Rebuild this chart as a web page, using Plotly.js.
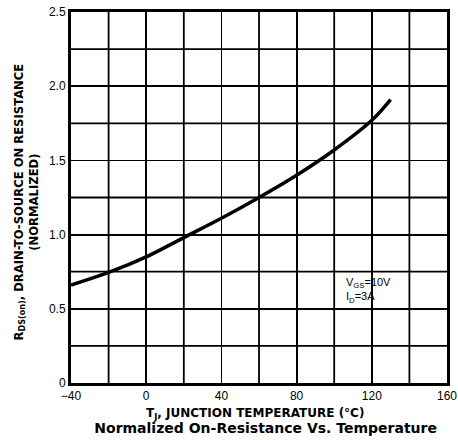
<!DOCTYPE html>
<html>
<head>
<meta charset="utf-8">
<script src="https://cdn.plot.ly/plotly-3.0.1.min.js"></script>
<style>html,body{margin:0;padding:0;background:#fff;}#chart{width:458px;height:440px;}</style>
</head>
<body>
<div id="chart"></div>
<script>
var temperature = [-40, -20, 0, 20, 40, 60, 80, 100, 120, 130];
var resistance = [0.66, 0.745, 0.85, 0.98, 1.11, 1.25, 1.40, 1.57, 1.77, 1.91];
var xTickVals = [-40, 0, 40, 80, 120, 160];
var xTickText = ['\u221240', '0', '40', '80', '120', '160'];
var yTickVals = [0, 0.5, 1.0, 1.5, 2.0, 2.5];
var yTickText = ['0', '0.5', '1.0', '1.5', '2.0', '2.5'];

var font = 'Liberation Sans, Arial, sans-serif';
var wideFont = 'DejaVu Sans, Liberation Sans, sans-serif';

var trace = {
  x: temperature, y: resistance, type: 'scatter', mode: 'lines',
  line: {color: '#000', width: 3.5, shape: 'spline', smoothing: 1},
  hoverinfo: 'skip', showlegend: false
};

var layout = {
  width: 458, height: 440,
  margin: {l: 71, r: 11, t: 12, b: 57},
  paper_bgcolor: '#fff', plot_bgcolor: '#fff',
  font: {family: font, color: '#000', size: 12},
  title: {
    text: '<b>Normalized On-Resistance Vs. Temperature</b>',
    font: {family: wideFont, size: 14, color: '#000'},
    x: 0.58, xanchor: 'center', y: 0.027, yanchor: 'middle', yref: 'container'
  },
  xaxis: {
    range: [-40, 160], dtick: 20, tick0: -40, showgrid: true,
    gridcolor: '#000', gridwidth: 1.8, zeroline: false,
    showline: true, linecolor: '#000', linewidth: 3, mirror: true,
    tickmode: 'array', tickvals: xTickVals, ticktext: xTickText,
    ticks: '', tickfont: {size: 12, family: font},
    fixedrange: true
  },
  yaxis: {
    range: [0, 2.5], showgrid: true,
    gridcolor: '#000', gridwidth: 1.8, zeroline: false,
    showline: true, linecolor: '#000', linewidth: 3, mirror: true,
    tickmode: 'array', tickvals: yTickVals, ticktext: yTickText,
    ticks: '', tickfont: {size: 12, family: font},
    fixedrange: true
  },
  shapes: [],
  annotations: [
    {
      text: '<b>T<sub>J</sub>, JUNCTION TEMPERATURE (\u00b0C)</b>',
      xref: 'paper', yref: 'paper', x: 0.49, y: 0, yshift: -21, yanchor: 'top',
      showarrow: false, font: {family: wideFont, size: 12, color: '#000'}
    },
    {
      text: '<b>R<sub>DS(on)</sub>, DRAIN-TO-SOURCE ON RESISTANCE</b><br><b>(NORMALIZED)</b>',
      xref: 'paper', yref: 'paper', x: 0, xshift: -45, xanchor: 'center', y: 0.5, yshift: -5, yanchor: 'middle',
      textangle: -90, showarrow: false, font: {family: wideFont, size: 11.6, color: '#000'}
    },
    {
      text: 'V<sub>GS</sub>=10V<br>I<sub>D</sub>=3A',
      xref: 'x', yref: 'y', x: 105, y: 0.625, xanchor: 'left', yanchor: 'middle', align: 'left',
      showarrow: false, font: {family: font, size: 11, color: '#000'}
    }
  ]
};

var minorX = [-20, 20, 60, 100, 140];
var minorY = [0.25, 0.75, 1.25, 1.75, 2.25];
minorX.forEach(function (v) {
  layout.shapes.push({type: 'line', xref: 'x', yref: 'paper', x0: v, x1: v, y0: 0, y1: 1, line: {color: '#000', width: 1.8}, layer: 'below'});
});
minorY.forEach(function (v) {
  layout.shapes.push({type: 'line', xref: 'paper', yref: 'y', x0: 0, x1: 1, y0: v, y1: v, line: {color: '#000', width: 1.8}, layer: 'below'});
});

Plotly.newPlot('chart', [trace], layout, {displayModeBar: false, staticPlot: true});
</script>
</body>
</html>
